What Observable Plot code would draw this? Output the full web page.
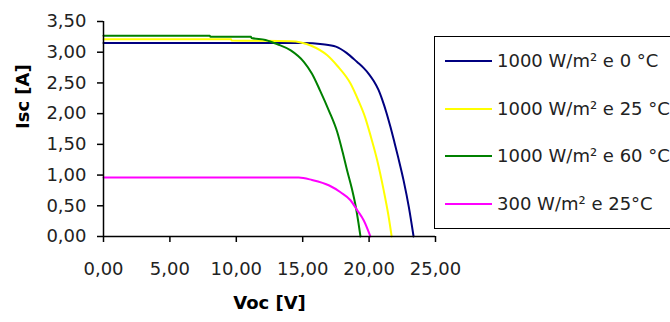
<!DOCTYPE html>
<html>
<head>
<meta charset="utf-8">
<script src="https://cdn.jsdelivr.net/npm/d3@7"></script>
<script src="https://cdn.jsdelivr.net/npm/@observablehq/plot@0.6"></script>
<style>
  html, body { margin: 0; padding: 0; background: #fff; overflow: hidden; }
  #wrap { position: relative; width: 670px; height: 322px; overflow: hidden; font-family: "DejaVu Sans", sans-serif; }
  #legend { position: absolute; left: 434px; top: 36px; width: 270px; height: 193px; border: 1px solid #000; box-sizing: border-box; background: #fff; }
  .row { height: 47.7px; display: flex; align-items: center; }
  .sw { width: 47px; height: 2px; margin-left: 10px; margin-right: 5px; }
  .lab { font-size: 18px; color: #222; white-space: nowrap; line-height: 1; }
</style>
</head>
<body>
<div id="wrap"><div id="chart"></div><div id="legend"></div></div>
<script>
// Series names and colours
const seriesNames = ["1000 W/m² e 0 °C", "1000 W/m² e 25 °C", "1000 W/m² e 60 °C", "300 W/m² e 25°C"];
const seriesColors = ["#000080", "#FFFF00", "#008000", "#FF00FF"];

// 1000 W/m² e 0 °C
const v0 = [0, 15.0, 16.5, 17.5, 18.3, 19.1, 19.6, 20.0, 20.35, 20.7, 21.0, 21.3, 21.6, 21.9, 22.2, 22.6, 23.0, 23.35];
const i0 = [3.15, 3.15, 3.13, 3.09, 2.99, 2.84, 2.74, 2.64, 2.53, 2.39, 2.22, 2.02, 1.79, 1.54, 1.28, 0.91, 0.47, 0];

// 1000 W/m² e 25 °C
const v25 = [0, 9.6, 9.65, 14.1, 15.6, 16.85, 17.6, 18.6, 19.2, 19.7, 20.1, 20.6, 21.1, 21.45, 21.7];
const i25 = [3.21, 3.21, 3.19, 3.18, 3.11, 2.95, 2.78, 2.49, 2.21, 1.94, 1.65, 1.25, 0.75, 0.35, 0];

// 1000 W/m² e 60 °C
const v60 = [0, 8.0, 8.05, 11.1, 11.15, 12.2, 13.1, 14.1, 15.1, 15.7, 16.3, 16.97, 17.6, 18.0, 18.35, 18.7, 19.0, 19.2, 19.35];
const i60 = [3.27, 3.27, 3.25, 3.25, 3.23, 3.20, 3.13, 3.03, 2.84, 2.65, 2.38, 2.05, 1.70, 1.38, 1.07, 0.78, 0.48, 0.22, 0];

// 300 W/m² e 25°C
const v300 = [0, 14.7, 15.7, 17.0, 17.85, 18.6, 19.1, 19.6, 20.1];
const i300 = [0.96, 0.96, 0.92, 0.83, 0.72, 0.59, 0.43, 0.26, 0];

// Axis ticks
const xTicks = [0, 5, 10, 15, 20, 25];
const yTicks = [0, 0.5, 1, 1.5, 2, 2.5, 3, 3.5];
const xLabel = "Voc [V]";
const yLabel = "Isc [A]";

const seriesV = [v0, v25, v60, v300];
const seriesI = [i0, i25, i60, i300];
const fmt = d => d.toFixed(2).replace(".", ",");

const lineMarks = seriesV.map((vs, k) =>
  Plot.line(vs.map((v, j) => ({v, i: seriesI[k][j]})), {x: "v", y: "i", stroke: seriesColors[k], strokeWidth: 2, curve: "monotone-x"})
);

const chart = Plot.plot({
  width: 670,
  height: 322,
  marginLeft: 103,
  marginRight: 235,
  marginTop: 21,
  marginBottom: 86,
  x: {domain: [0, 25]},
  y: {domain: [0, 3.5]},
  style: {fontFamily: "DejaVu Sans, sans-serif", fontSize: "18px", color: "#000", background: "transparent", overflow: "visible"},
  marks: [
    ...lineMarks,
    Plot.ruleX([0], {stroke: "#000", strokeWidth: 1.5}),
    Plot.ruleY([0], {stroke: "#000", strokeWidth: 1.5}),
    Plot.axisX({ticks: xTicks, tickSize: 6, tickPadding: 20, tickFormat: fmt, label: null, stroke: "#000", strokeWidth: 1.5, strokeOpacity: 1, fill: "#222"}),
    Plot.axisY({ticks: yTicks, tickSize: 6, tickPadding: 11, tickFormat: fmt, label: null, stroke: "#000", strokeWidth: 1.5, strokeOpacity: 1, fill: "#222"}),
    Plot.text([xLabel], {frameAnchor: "bottom", dy: 72, fontWeight: "bold", fontSize: 18, fill: "#000"}),
    Plot.text([yLabel], {frameAnchor: "left", dx: -80, rotate: -90, fontWeight: "bold", fontSize: 18, fill: "#000"})
  ]
});
document.getElementById("chart").append(chart);

const legend = document.getElementById("legend");
seriesNames.forEach((name, k) => {
  const row = document.createElement("div");
  row.className = "row";
  const sw = document.createElement("div");
  sw.className = "sw";
  sw.style.background = seriesColors[k];
  const lab = document.createElement("span");
  lab.className = "lab";
  lab.textContent = name;
  row.append(sw, lab);
  legend.append(row);
});
</script>
</body>
</html>
